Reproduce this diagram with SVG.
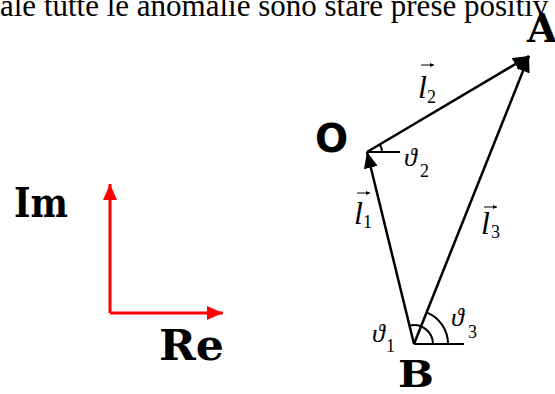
<svg xmlns="http://www.w3.org/2000/svg" width="555" height="394" viewBox="0 0 555 394">
  <style>
    .body { font-family: "Liberation Serif", "Times New Roman", serif; font-size: 31px; fill: #000; }
    .pt { font-family: "DejaVu Serif", "Liberation Serif", serif; font-weight: bold; fill: #000; }
    .ptO { font-family: "DejaVu Sans", "Liberation Sans", sans-serif; font-weight: bold; fill: #000; }
    .m { font-family: "Liberation Serif", "DejaVu Serif", serif; font-style: italic; font-size: 32px; fill: #000; }
    .th { font-family: "Liberation Serif", "DejaVu Serif", serif; font-style: italic; font-size: 26px; fill: #000; }
    .sub { font-family: "Liberation Serif", "DejaVu Serif", serif; font-size: 18px; fill: #000; }
    .vec { stroke: #000; stroke-width: 2.5; fill: none; }
    .thin { stroke: #000; stroke-width: 2; fill: none; }
    .ax { stroke: #ff0000; stroke-width: 3; fill: none; }
    .varr { stroke: #000; stroke-width: 1; fill: none; }
  </style>
  <defs>
    <marker id="ah" markerUnits="userSpaceOnUse" markerWidth="18" markerHeight="14" refX="16" refY="7" orient="auto">
      <path d="M0,0 L16,7 L0,14 z" fill="#000"/>
    </marker>
    <marker id="ahr" markerUnits="userSpaceOnUse" markerWidth="18" markerHeight="16" refX="16" refY="8" orient="auto">
      <path d="M0,1 L16,8 L0,15 z" fill="#ff0000"/>
    </marker>
    <marker id="sh" markerUnits="userSpaceOnUse" markerWidth="5" markerHeight="4" refX="4" refY="2" orient="auto">
      <path d="M0,0 L4,2 L0,4 z" fill="#000"/>
    </marker>
  </defs>

  <rect width="555" height="394" fill="#fff"/>

  <text class="body" x="0" y="16">ale tutte le anomalie sono stare prese positiv</text>

  <g id="axes">
    <line class="ax" x1="110" y1="313" x2="110" y2="184" marker-end="url(#ahr)"/>
    <line class="ax" x1="110" y1="313" x2="223" y2="313" marker-end="url(#ahr)"/>
    <text class="pt" x="14" y="217" font-size="41" textLength="54" lengthAdjust="spacingAndGlyphs">Im</text>
    <text class="pt" x="159" y="360" font-size="42" textLength="65" lengthAdjust="spacingAndGlyphs">Re</text>
  </g>

  <g id="connectors">
    <line class="vec" x1="414" y1="344" x2="367" y2="152" marker-end="url(#ah)"/>
    <line class="vec" x1="367" y1="152" x2="529" y2="56" marker-end="url(#ah)"/>
    <line class="vec" x1="414" y1="344" x2="529" y2="56" marker-end="url(#ah)"/>
    <line class="thin" x1="367" y1="152" x2="400" y2="152"/>
    <line class="thin" x1="414" y1="344" x2="464" y2="344"/>
    <path class="thin" d="M382,152 A15,15 0 0 0 379.9,144.4"/>
    <path class="thin" d="M433,344 A19,19 0 0 0 409.5,325.6"/>
    <path class="thin" d="M448,344 A34,34 0 0 0 426.6,312.4"/>
  </g>

  <g id="node-O">
    <text class="ptO" x="315" y="152" font-size="39">O</text>
  </g>
  <g id="node-A">
    <text class="pt" x="527" y="42" font-size="39">A</text>
  </g>
  <g id="node-B">
    <text class="pt" x="398" y="387" font-size="38" textLength="36" lengthAdjust="spacingAndGlyphs">B</text>
  </g>

  <g id="label-l1">
    <line class="varr" x1="357" y1="193" x2="370" y2="193" marker-end="url(#sh)"/>
    <text class="m" x="354" y="224">l</text>
    <text class="sub" x="363" y="228">1</text>
  </g>
  <g id="label-l2">
    <line class="varr" x1="421" y1="65" x2="434" y2="65" marker-end="url(#sh)"/>
    <text class="m" x="418" y="98">l</text>
    <text class="sub" x="427" y="103">2</text>
  </g>
  <g id="label-l3">
    <line class="varr" x1="484" y1="207" x2="497" y2="207" marker-end="url(#sh)"/>
    <text class="m" x="481" y="234">l</text>
    <text class="sub" x="491" y="238">3</text>
  </g>
  <g id="label-t1">
    <text class="th" x="372" y="342">ϑ</text>
    <text class="sub" x="386" y="352">1</text>
  </g>
  <g id="label-t2">
    <text class="th" x="404" y="166">ϑ</text>
    <text class="sub" x="420" y="177">2</text>
  </g>
  <g id="label-t3">
    <text class="th" x="451" y="326">ϑ</text>
    <text class="sub" x="468" y="338">3</text>
  </g>
</svg>
